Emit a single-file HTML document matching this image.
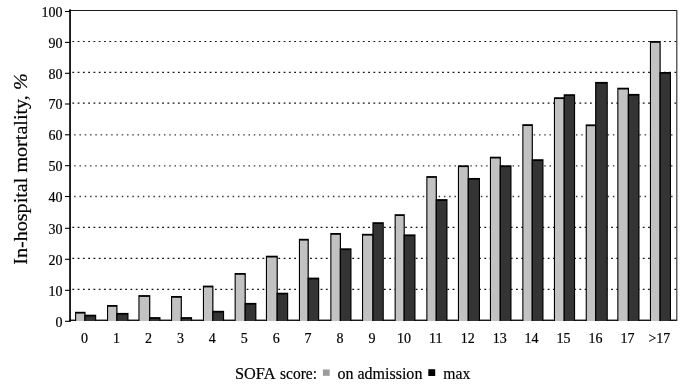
<!DOCTYPE html>
<html><head><meta charset="utf-8"><style>
html,body{margin:0;padding:0;background:#fff;}
svg{display:block;}
.t{font-family:"Liberation Serif",serif;font-size:14px;fill:#000;stroke:#000;stroke-width:0.2px;}
.yl{font-family:"Liberation Serif",serif;font-size:20px;fill:#000;stroke:#000;stroke-width:0.2px;}
.lg{font-family:"Liberation Serif",serif;font-size:16.5px;fill:#000;stroke:#000;stroke-width:0.2px;}
</style></head><body>
<svg width="685" height="391" viewBox="0 0 685 391">
<line x1="72.36" y1="289.30" x2="676.3" y2="289.30" stroke="#111" stroke-width="1.2" stroke-dasharray="1.8 3.4817"/>
<line x1="72.36" y1="258.40" x2="676.3" y2="258.40" stroke="#111" stroke-width="1.2" stroke-dasharray="1.8 3.4817"/>
<line x1="72.36" y1="227.30" x2="676.3" y2="227.30" stroke="#111" stroke-width="1.2" stroke-dasharray="1.8 3.4817"/>
<line x1="74.18" y1="196.50" x2="676.3" y2="196.50" stroke="#3a3a3a" stroke-width="1.3" stroke-dasharray="1.5 3.7817"/>
<line x1="74.18" y1="165.80" x2="676.3" y2="165.80" stroke="#3a3a3a" stroke-width="1.3" stroke-dasharray="1.5 3.7817"/>
<line x1="74.18" y1="134.80" x2="676.3" y2="134.80" stroke="#3a3a3a" stroke-width="1.3" stroke-dasharray="1.5 3.7817"/>
<line x1="72.36" y1="103.20" x2="676.3" y2="103.20" stroke="#111" stroke-width="1.2" stroke-dasharray="1.8 3.4817"/>
<line x1="72.36" y1="72.40" x2="676.3" y2="72.40" stroke="#111" stroke-width="1.2" stroke-dasharray="1.8 3.4817"/>
<line x1="72.36" y1="41.50" x2="676.3" y2="41.50" stroke="#111" stroke-width="1.2" stroke-dasharray="1.8 3.4817"/>
<rect x="69" y="319.6" width="608" height="1.3" fill="#000"/>
<rect x="75.05" y="311.79" width="10.50" height="9.21" fill="#000"/>
<rect x="76.15" y="313.59" width="8.20" height="7.41" fill="#c2c2c2"/>
<rect x="84.35" y="314.70" width="11.85" height="6.30" fill="#000"/>
<rect x="85.55" y="316.50" width="9.55" height="4.50" fill="#343434"/>
<rect x="107.00" y="305.00" width="10.50" height="16.00" fill="#000"/>
<rect x="108.10" y="306.80" width="8.20" height="14.20" fill="#c2c2c2"/>
<rect x="116.30" y="312.90" width="12.20" height="8.10" fill="#000"/>
<rect x="117.50" y="314.70" width="9.90" height="6.30" fill="#343434"/>
<rect x="138.40" y="295.09" width="11.90" height="25.91" fill="#000"/>
<rect x="139.50" y="296.89" width="9.60" height="24.11" fill="#c2c2c2"/>
<rect x="149.10" y="317.11" width="11.40" height="3.89" fill="#000"/>
<rect x="150.30" y="318.91" width="9.10" height="2.09" fill="#343434"/>
<rect x="171.00" y="295.99" width="10.90" height="25.01" fill="#000"/>
<rect x="172.10" y="297.79" width="8.60" height="23.21" fill="#c2c2c2"/>
<rect x="180.70" y="317.11" width="11.40" height="3.89" fill="#000"/>
<rect x="181.90" y="318.91" width="9.10" height="2.09" fill="#343434"/>
<rect x="202.90" y="285.61" width="10.55" height="35.39" fill="#000"/>
<rect x="204.00" y="287.41" width="8.25" height="33.59" fill="#c2c2c2"/>
<rect x="212.25" y="310.79" width="11.85" height="10.21" fill="#000"/>
<rect x="213.45" y="312.59" width="9.55" height="8.41" fill="#343434"/>
<rect x="234.60" y="273.00" width="11.20" height="48.00" fill="#000"/>
<rect x="235.70" y="274.80" width="8.90" height="46.20" fill="#c2c2c2"/>
<rect x="244.60" y="302.89" width="11.80" height="18.11" fill="#000"/>
<rect x="245.80" y="304.69" width="9.50" height="16.31" fill="#343434"/>
<rect x="265.90" y="255.71" width="11.90" height="65.29" fill="#000"/>
<rect x="267.00" y="257.51" width="9.60" height="63.49" fill="#c2c2c2"/>
<rect x="276.60" y="292.70" width="11.60" height="28.30" fill="#000"/>
<rect x="277.80" y="294.50" width="9.30" height="26.50" fill="#343434"/>
<rect x="298.90" y="238.80" width="9.90" height="82.20" fill="#000"/>
<rect x="300.00" y="240.60" width="7.60" height="80.40" fill="#c2c2c2"/>
<rect x="307.60" y="277.61" width="11.60" height="43.39" fill="#000"/>
<rect x="308.80" y="279.41" width="9.30" height="41.59" fill="#343434"/>
<rect x="330.30" y="233.00" width="10.70" height="88.00" fill="#000"/>
<rect x="331.40" y="234.80" width="8.40" height="86.20" fill="#c2c2c2"/>
<rect x="339.80" y="248.31" width="11.70" height="72.69" fill="#000"/>
<rect x="341.00" y="250.11" width="9.40" height="70.89" fill="#343434"/>
<rect x="362.00" y="233.81" width="11.60" height="87.19" fill="#000"/>
<rect x="363.10" y="235.61" width="9.30" height="85.39" fill="#c2c2c2"/>
<rect x="372.40" y="222.19" width="11.40" height="98.81" fill="#000"/>
<rect x="373.60" y="223.99" width="9.10" height="97.01" fill="#343434"/>
<rect x="394.60" y="214.20" width="10.20" height="106.80" fill="#000"/>
<rect x="395.70" y="216.00" width="7.90" height="105.00" fill="#c2c2c2"/>
<rect x="403.60" y="234.40" width="11.90" height="86.60" fill="#000"/>
<rect x="404.80" y="236.20" width="9.60" height="84.80" fill="#343434"/>
<rect x="426.30" y="176.09" width="10.60" height="144.91" fill="#000"/>
<rect x="427.40" y="177.89" width="8.30" height="143.11" fill="#c2c2c2"/>
<rect x="435.70" y="199.11" width="11.80" height="121.89" fill="#000"/>
<rect x="436.90" y="200.91" width="9.50" height="120.09" fill="#343434"/>
<rect x="457.90" y="165.31" width="11.00" height="155.69" fill="#000"/>
<rect x="459.00" y="167.11" width="8.70" height="153.89" fill="#c2c2c2"/>
<rect x="467.70" y="177.95" width="12.30" height="143.05" fill="#000"/>
<rect x="468.90" y="179.75" width="10.00" height="141.25" fill="#343434"/>
<rect x="489.90" y="156.70" width="11.00" height="164.30" fill="#000"/>
<rect x="491.00" y="158.50" width="8.70" height="162.50" fill="#c2c2c2"/>
<rect x="499.70" y="165.31" width="11.80" height="155.69" fill="#000"/>
<rect x="500.90" y="167.11" width="9.50" height="153.89" fill="#343434"/>
<rect x="522.30" y="124.20" width="10.60" height="196.80" fill="#000"/>
<rect x="523.40" y="126.00" width="8.30" height="195.00" fill="#c2c2c2"/>
<rect x="531.70" y="159.21" width="11.80" height="161.79" fill="#000"/>
<rect x="532.90" y="161.01" width="9.50" height="159.99" fill="#343434"/>
<rect x="553.90" y="97.25" width="10.95" height="223.75" fill="#000"/>
<rect x="555.00" y="99.05" width="8.65" height="221.95" fill="#c2c2c2"/>
<rect x="563.65" y="94.21" width="11.45" height="226.79" fill="#000"/>
<rect x="564.85" y="96.01" width="9.15" height="224.99" fill="#343434"/>
<rect x="585.70" y="124.39" width="10.60" height="196.61" fill="#000"/>
<rect x="586.80" y="126.19" width="8.30" height="194.81" fill="#c2c2c2"/>
<rect x="595.10" y="81.91" width="12.70" height="239.09" fill="#000"/>
<rect x="596.30" y="83.71" width="10.40" height="237.29" fill="#343434"/>
<rect x="617.30" y="87.71" width="11.70" height="233.29" fill="#000"/>
<rect x="618.40" y="89.51" width="9.40" height="231.49" fill="#c2c2c2"/>
<rect x="627.80" y="93.90" width="11.70" height="227.10" fill="#000"/>
<rect x="629.00" y="95.70" width="9.40" height="225.30" fill="#343434"/>
<rect x="649.90" y="41.02" width="10.80" height="279.98" fill="#000"/>
<rect x="651.00" y="42.82" width="8.50" height="278.18" fill="#c2c2c2"/>
<rect x="659.50" y="72.00" width="11.50" height="249.00" fill="#000"/>
<rect x="660.70" y="73.80" width="9.20" height="247.20" fill="#343434"/>
<rect x="69" y="10" width="608" height="1" fill="#1a1a1a"/>
<rect x="676.2" y="10" width="1.2" height="311" fill="#3a3a3a"/>
<rect x="69.2" y="9.3" width="1.7" height="312.5" fill="#000"/>
<line x1="65" y1="321.30" x2="70" y2="321.30" stroke="#000" stroke-width="1.1"/>
<text x="62.5" y="326.60" text-anchor="end" class="t">0</text>
<line x1="65" y1="290.30" x2="70" y2="290.30" stroke="#000" stroke-width="1.1"/>
<text x="62.5" y="295.60" text-anchor="end" class="t">10</text>
<line x1="65" y1="259.30" x2="70" y2="259.30" stroke="#000" stroke-width="1.1"/>
<text x="62.5" y="264.60" text-anchor="end" class="t">20</text>
<line x1="65" y1="228.30" x2="70" y2="228.30" stroke="#000" stroke-width="1.1"/>
<text x="62.5" y="233.60" text-anchor="end" class="t">30</text>
<line x1="65" y1="196.50" x2="70" y2="196.50" stroke="#000" stroke-width="1.1"/>
<text x="62.5" y="201.80" text-anchor="end" class="t">40</text>
<line x1="65" y1="165.70" x2="70" y2="165.70" stroke="#000" stroke-width="1.1"/>
<text x="62.5" y="171.00" text-anchor="end" class="t">50</text>
<line x1="65" y1="134.80" x2="70" y2="134.80" stroke="#000" stroke-width="1.1"/>
<text x="62.5" y="140.10" text-anchor="end" class="t">60</text>
<line x1="65" y1="104.00" x2="70" y2="104.00" stroke="#000" stroke-width="1.1"/>
<text x="62.5" y="109.30" text-anchor="end" class="t">70</text>
<line x1="65" y1="73.30" x2="70" y2="73.30" stroke="#000" stroke-width="1.1"/>
<text x="62.5" y="78.60" text-anchor="end" class="t">80</text>
<line x1="65" y1="42.40" x2="70" y2="42.40" stroke="#000" stroke-width="1.1"/>
<text x="62.5" y="47.70" text-anchor="end" class="t">90</text>
<line x1="65" y1="11.50" x2="70" y2="11.50" stroke="#000" stroke-width="1.1"/>
<text x="62.5" y="16.80" text-anchor="end" class="t">100</text>
<text x="84.60" y="343" text-anchor="middle" class="t">0</text>
<text x="116.53" y="343" text-anchor="middle" class="t">1</text>
<text x="148.46" y="343" text-anchor="middle" class="t">2</text>
<text x="180.39" y="343" text-anchor="middle" class="t">3</text>
<text x="212.32" y="343" text-anchor="middle" class="t">4</text>
<text x="244.25" y="343" text-anchor="middle" class="t">5</text>
<text x="276.18" y="343" text-anchor="middle" class="t">6</text>
<text x="308.11" y="343" text-anchor="middle" class="t">7</text>
<text x="340.04" y="343" text-anchor="middle" class="t">8</text>
<text x="371.97" y="343" text-anchor="middle" class="t">9</text>
<text x="403.90" y="343" text-anchor="middle" class="t">10</text>
<text x="435.83" y="343" text-anchor="middle" class="t">11</text>
<text x="467.76" y="343" text-anchor="middle" class="t">12</text>
<text x="499.69" y="343" text-anchor="middle" class="t">13</text>
<text x="531.62" y="343" text-anchor="middle" class="t">14</text>
<text x="563.55" y="343" text-anchor="middle" class="t">15</text>
<text x="595.48" y="343" text-anchor="middle" class="t">16</text>
<text x="627.41" y="343" text-anchor="middle" class="t">17</text>
<text x="659.34" y="343" text-anchor="middle" class="t">&gt;17</text>
<text transform="translate(26.9,264.8) rotate(-90) scale(1,0.95)" class="yl" textLength="191.5" lengthAdjust="spacingAndGlyphs">In-hospital mortality, <tspan font-style="italic">%</tspan></text>
<text y="378.5" class="lg"><tspan x="235.0" textLength="39.6" lengthAdjust="spacingAndGlyphs">SOFA</tspan> <tspan x="280.0" textLength="37.0" lengthAdjust="spacingAndGlyphs">score:</tspan></text>
<rect x="322.9" y="369.5" width="6.8" height="6.3" fill="#9c9c9c"/>
<text x="337.4" y="378.5" class="lg" textLength="85.0" lengthAdjust="spacingAndGlyphs">on admission</text>
<rect x="428.3" y="369.2" width="6.9" height="6.8" fill="#000"/>
<text x="443.3" y="378.5" class="lg" textLength="27.0" lengthAdjust="spacingAndGlyphs">max</text>
</svg>
</body></html>
